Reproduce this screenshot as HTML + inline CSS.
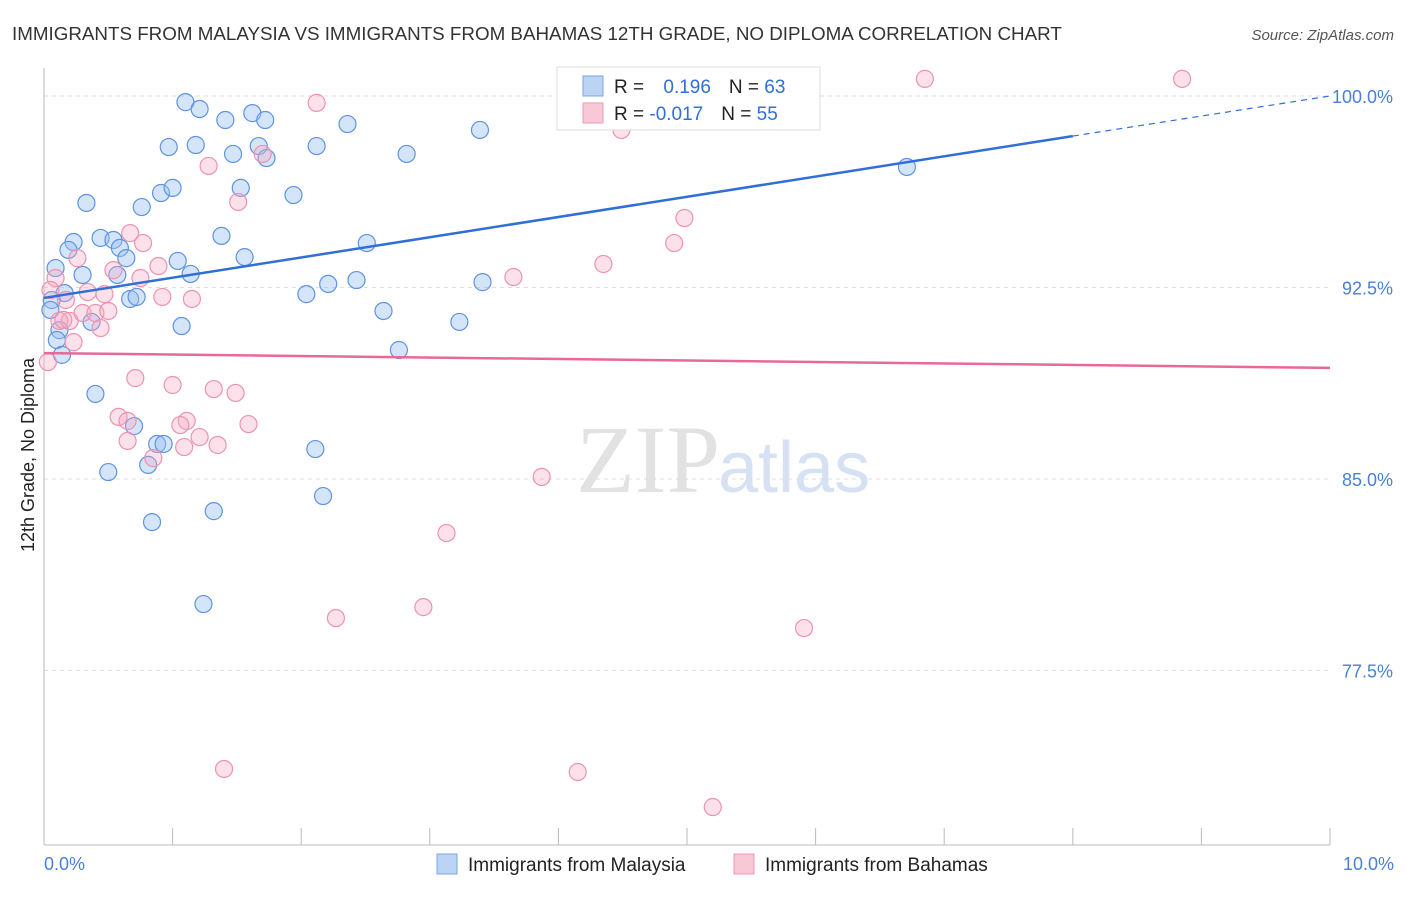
<!DOCTYPE html>
<html><head><meta charset="utf-8"><style>
body{margin:0;background:#fff;font-family:"Liberation Sans",sans-serif}
</style></head><body>
<svg width="1406" height="892" xmlns="http://www.w3.org/2000/svg" font-family="Liberation Sans, sans-serif">
<text x="12" y="40" font-size="18.8" fill="#333">IMMIGRANTS FROM MALAYSIA VS IMMIGRANTS FROM BAHAMAS 12TH GRADE, NO DIPLOMA CORRELATION CHART</text>
<text x="1394" y="40" font-size="15" fill="#555" font-style="italic" text-anchor="end">Source: ZipAtlas.com</text>
<text x="720" y="492" font-size="96" fill="#e2e2e2" text-anchor="end" font-family="Liberation Serif, serif">ZIP</text>
<text x="718" y="492" font-size="72" fill="#d6e2f4">atlas</text>
<g id="grid"></g><g id="axes"></g><g id="pts"></g><g id="trend"></g>
<text transform="translate(34,455) rotate(-90)" font-size="18" fill="#222" text-anchor="middle">12th Grade, No Diploma</text>
<text x="44" y="870" font-size="18" fill="#4a7fd6">0.0%</text>
<text x="1394" y="870" font-size="18" fill="#4a7fd6" text-anchor="end">10.0%</text>
<g>
<rect x="557" y="67" width="263" height="63" fill="#fff" stroke="#ddd"/>
<rect x="583" y="76" width="20" height="20" fill="#bcd4f4" stroke="#7aa6e6"/>
<rect x="583" y="103" width="20" height="20" fill="#f8c8d6" stroke="#ee9ab4"/>
<text x="614" y="93" font-size="19" fill="#222">R = <tspan fill="#2f6fd6" dx="14">0.196</tspan><tspan dx="18" fill="#222">N = </tspan><tspan fill="#2f6fd6">63</tspan></text>
<text x="614" y="120" font-size="19" fill="#222">R = <tspan fill="#2f6fd6">-0.017</tspan><tspan dx="18" fill="#222">N = </tspan><tspan fill="#2f6fd6">55</tspan></text>
</g>
<g>
<rect x="437" y="854" width="20" height="20" fill="#bcd4f4" stroke="#7aa6e6"/>
<text x="468" y="871" font-size="19" fill="#222">Immigrants from Malaysia</text>
<rect x="734" y="854" width="20" height="20" fill="#f8c8d6" stroke="#ee9ab4"/>
<text x="765" y="871" font-size="19" fill="#222">Immigrants from Bahamas</text>
</g>
</svg>
<script>
const yTicks=[100,92.5,85,77.5];
const yTickLabels=["100.0%","92.5%","85.0%","77.5%"];
const xTicks=[0,1,2,3,4,5,6,7,8,9,10];
const malaysiaPx=[[186,102],[199,109],[225,120],[252,113],[265,120],[348,124],[480,130],[169,147],[196,145],[233,154],[259,146],[266,158],[317,146],[407,154],[907,167],[87,203],[142,207],[161,193],[173,188],[241,188],[294,195],[221,236],[100,238],[113,240],[120,248],[73,242],[68,250],[56,268],[82,275],[126,258],[117,275],[178,261],[191,274],[244,257],[367,243],[357,280],[328,284],[306,294],[483,282],[130,299],[137,297],[65,293],[52,300],[60,330],[91,322],[182,326],[383,311],[460,322],[399,350],[96,394],[134,426],[157,444],[164,444],[108,472],[148,465],[315,449],[323,496],[152,522],[214,511],[203,604],[50,310],[57,340],[62,355]];
const bahamasPx=[[925,79],[1182,79],[317,103],[622,130],[208,166],[262,154],[238,202],[685,218],[674,243],[130,233],[143,243],[78,258],[113,270],[158,266],[140,278],[55,278],[88,292],[105,294],[162,297],[192,299],[603,264],[514,277],[60,321],[70,321],[83,313],[96,313],[108,311],[100,328],[74,342],[48,362],[135,378],[173,385],[214,389],[235,393],[118,417],[128,421],[187,421],[180,425],[127,441],[199,437],[184,447],[218,445],[248,424],[153,458],[542,477],[446,533],[336,618],[424,607],[804,628],[224,769],[578,772],[713,807],[63,320],[51,290],[66,300]];
const malaysiaX=malaysiaPx.map(p=>+((p[0]-44)/128.6).toFixed(2));
const malaysiaY=malaysiaPx.map(p=>+(100-(p[1]-96)/25.53).toFixed(2));
const bahamasX=bahamasPx.map(p=>+((p[0]-44)/128.6).toFixed(2));
const bahamasY=bahamasPx.map(p=>+(100-(p[1]-96)/25.53).toFixed(2));
const trendMalaysia=[92.09,98.43,100];
const trendBahamas=[89.93,89.35];
const sx=v=>44+v*128.6, sy=v=>96+(100-v)*25.53;
const NS="http://www.w3.org/2000/svg";
function mk(t,a,p){const e=document.createElementNS(NS,t);for(const k in a)e.setAttribute(k,a[k]);p.appendChild(e);return e;}
const grid=document.getElementById('grid'),axes=document.getElementById('axes');
yTicks.forEach((v,i)=>{
 const l=mk('line',{x1:44,x2:1330,y1:sy(v),y2:sy(v),stroke:'#ddd','stroke-dasharray':'4,4'},grid);
 
 
 const t=mk('text',{x:1393,y:sy(v)+7,'font-size':18,fill:'#4a7fd6','text-anchor':'end'},grid);t.textContent=yTickLabels[i];
 
 
});
const ya=mk('line',{x1:44,x2:44,y1:68,y2:845,stroke:'#bbb'},axes);


const xa=mk('line',{x1:44,x2:1330,y1:845,y2:845,stroke:'#bbb'},axes);


xTicks.forEach(v=>{const t=mk('line',{x1:sx(v),x2:sx(v),y1:828,y2:845,stroke:'#bbb'},axes);
 
 });
const pts=document.getElementById('pts');
malaysiaX.forEach((x,i)=>{const c=mk('circle',{cx:sx(x),cy:sy(malaysiaY[i]),r:8.5,fill:'rgba(150,190,240,0.4)',stroke:'#5f93e0','stroke-width':1.2},pts);
 
 });
bahamasX.forEach((x,i)=>{const c=mk('circle',{cx:sx(x),cy:sy(bahamasY[i]),r:8.5,fill:'rgba(245,170,195,0.35)',stroke:'#ec93b0','stroke-width':1.2},pts);
 
 });
const tr=document.getElementById('trend');
const l1=mk('line',{x1:sx(0),y1:sy(trendMalaysia[0]),x2:sx(8),y2:sy(trendMalaysia[1]),stroke:'#2f6fd6','stroke-width':2.5},tr);


const l2=mk('line',{x1:sx(8),y1:sy(trendMalaysia[1]),x2:sx(10),y2:sy(trendMalaysia[2]),stroke:'#2f6fd6','stroke-width':1.2,'stroke-dasharray':'6,5'},tr);


const l3=mk('line',{x1:sx(0),y1:sy(trendBahamas[0]),x2:sx(10),y2:sy(trendBahamas[1]),stroke:'#e8689a','stroke-width':2.5},tr);


</script>
</body></html>
